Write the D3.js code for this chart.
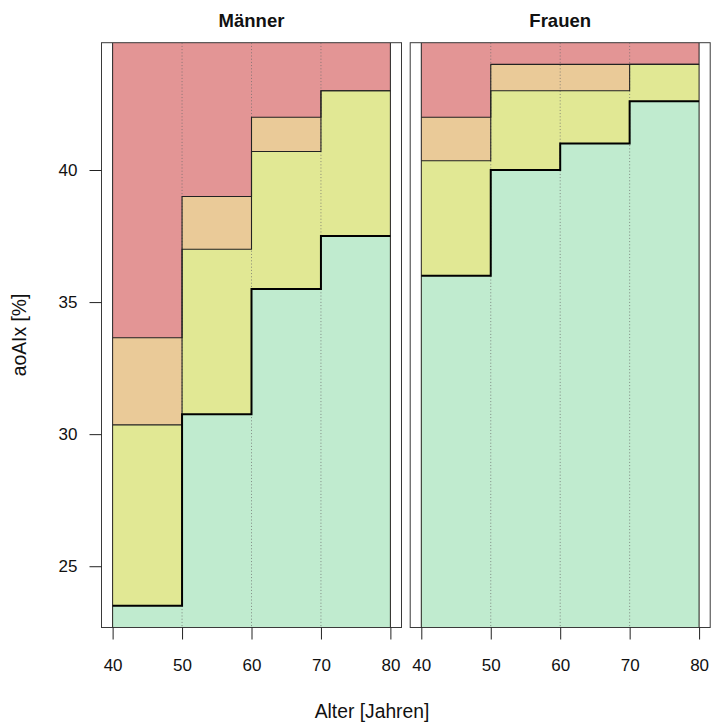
<!DOCTYPE html>
<html>
<head>
<meta charset="utf-8">
<script src="https://cdn.jsdelivr.net/npm/d3@7"></script>
<style>
  html, body { margin: 0; padding: 0; background: #fff; }
  svg { display: block; font-family: "Liberation Sans", Arial, sans-serif; }
</style>
</head>
<body>
<svg id="chart" width="711" height="722"></svg>
<script>
// ---- data ----
const ageBreaks = [40, 50, 60, 70, 80];
const panelNames = ["Männer", "Frauen"];
const xTicks = [40, 50, 60, 70, 80];
const yTicks = [25, 30, 35, 40];
// upper limits of each zone per age group (40-50, 50-60, 60-70, 70-80)
const maennerGreen  = [23.5, 30.75, 35.5, 37.5];
const maennerYellow = [30.35, 37.0, 40.7, 43.0];
const maennerOrange = [33.65, 39.0, 42.0, 43.0];
const frauenGreen   = [36.0, 40.0, 41.0, 42.6];
const frauenYellow  = [40.35, 43.0, 43.0, 44.0];
const frauenOrange  = [42.0, 44.0, 44.0, 44.0];
const zoneColors = { red: "#e39595", orange: "#eaca98", yellow: "#e1e894", green: "#c0ebcf" };

const panelData = [
  { name: panelNames[0], green: maennerGreen, yellow: maennerYellow, orange: maennerOrange },
  { name: panelNames[1], green: frauenGreen, yellow: frauenYellow, orange: frauenOrange }
];

// ---- layout ----
const svg = d3.select("#chart");
const panelTop = 42.7, panelBottom = 627.5;
const panelW = 300, gap = 8.7, firstLeft = 101.5;

const allVals = [].concat(maennerGreen, maennerYellow, maennerOrange, frauenGreen, frauenYellow, frauenOrange);
const yMin = d3.min(allVals), yMax = d3.max(allVals);
const yPad = (yMax - yMin) * 0.04;
const y = d3.scaleLinear().domain([yMin - yPad, yMax + yPad]).range([panelBottom, panelTop]);
const xPad = (80 - 40) * 0.04;

const fontTick = 17;

panelData.forEach((p, i) => {
  const left = firstLeft + i * (panelW + gap);
  const x = d3.scaleLinear().domain([40 - xPad, 80 + xPad]).range([left, left + panelW]);
  const g = svg.append("g");
  const clipId = "clip" + i;
  svg.append("clipPath").attr("id", clipId)
    .append("rect").attr("x", left).attr("y", panelTop).attr("width", panelW).attr("height", panelBottom - panelTop);
  const pg = g.append("g").attr("clip-path", `url(#${clipId})`);

  const pts = vals => ageBreaks.map((a, k) => [a, vals[Math.min(k, vals.length - 1)]]);
  const area = d3.area().curve(d3.curveStepAfter)
    .x(d => x(d[0])).y0(panelBottom + 5).y1(d => y(d[1]));
  const line = d3.line().curve(d3.curveStepAfter).x(d => x(d[0])).y(d => y(d[1]));

  // red background zone
  pg.append("rect").attr("x", x(40)).attr("y", panelTop - 5)
    .attr("width", x(80) - x(40)).attr("height", panelBottom - panelTop + 10)
    .attr("fill", zoneColors.red);
  pg.append("path").datum(pts(p.orange)).attr("d", area).attr("fill", zoneColors.orange);
  pg.append("path").datum(pts(p.yellow)).attr("d", area).attr("fill", zoneColors.yellow);
  pg.append("path").datum(pts(p.green)).attr("d", area).attr("fill", zoneColors.green);

  // dotted reference lines
  [50, 60, 70].forEach(v => {
    pg.append("line").attr("x1", x(v)).attr("x2", x(v)).attr("y1", panelTop).attr("y2", panelBottom)
      .attr("stroke", "#6a6a6a").attr("stroke-opacity", 0.75).attr("stroke-width", 1)
      .attr("stroke-dasharray", "1,2.2");
  });

  // outlines
  [x(40), x(80)].forEach(xx => {
    pg.append("line").attr("x1", xx).attr("x2", xx).attr("y1", panelTop).attr("y2", panelBottom)
      .attr("stroke", "#222").attr("stroke-width", 1);
  });
  pg.append("path").datum(pts(p.orange)).attr("d", line).attr("fill", "none").attr("stroke", "#222").attr("stroke-width", 1.1);
  pg.append("path").datum(pts(p.yellow)).attr("d", line).attr("fill", "none").attr("stroke", "#222").attr("stroke-width", 1.1);
  pg.append("path").datum(pts(p.green)).attr("d", line).attr("fill", "none").attr("stroke", "#000").attr("stroke-width", 2);

  // panel border
  g.append("rect").attr("x", left).attr("y", panelTop).attr("width", panelW).attr("height", panelBottom - panelTop)
    .attr("fill", "none").attr("stroke", "#3a3a3a").attr("stroke-width", 1);

  // x axis
  const xAxis = d3.axisBottom(x).tickValues(xTicks).tickSize(12).tickPadding(19).tickSizeOuter(0);
  const ax = g.append("g").attr("transform", `translate(0,${panelBottom})`).call(xAxis);
  ax.select(".domain").remove();
  ax.selectAll("line").attr("stroke", "#222");
  ax.selectAll("text").attr("font-size", fontTick).attr("fill", "#111").attr("font-family", "Liberation Sans, Arial, sans-serif");

  // strip title
  g.append("text").attr("x", left + panelW / 2).attr("y", 27.3)
    .attr("text-anchor", "middle").attr("font-weight", "bold").attr("font-size", 18.5)
    .attr("fill", "#111").text(p.name);

  if (i === 0) {
    const yAxis = d3.axisLeft(y).tickValues(yTicks).tickSize(12).tickPadding(12).tickSizeOuter(0);
    const ay = svg.append("g").attr("transform", `translate(${left},0)`).call(yAxis);
    ay.select(".domain").remove();
    ay.selectAll("line").attr("stroke", "#222");
    ay.selectAll("text").attr("font-size", fontTick).attr("fill", "#111").attr("font-family", "Liberation Sans, Arial, sans-serif");
  }
});

// axis titles
svg.append("text").attr("x", 372).attr("y", 718)
  .attr("text-anchor", "middle").attr("font-size", 19.3).attr("fill", "#111").text("Alter [Jahren]");
svg.append("text").attr("transform", "translate(25.5,335) rotate(-90)")
  .attr("text-anchor", "middle").attr("font-size", 19.3).attr("fill", "#111").text("aoAIx [%]");
</script>
</body>
</html>
